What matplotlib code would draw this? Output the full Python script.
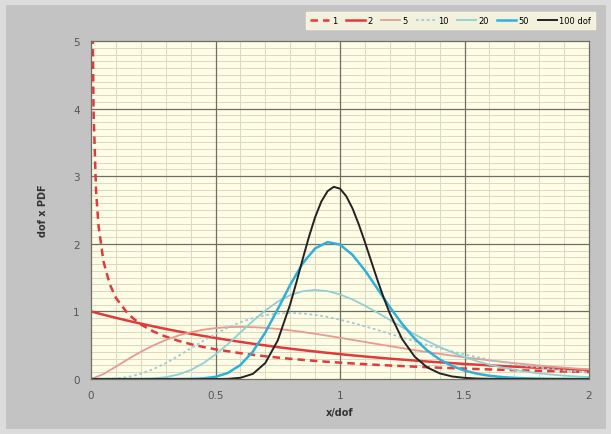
import numpy as np
import matplotlib.pyplot as plt
from matplotlib.ticker import MultipleLocator

# x/dof grid shared by most curves
x_main = [0.00, 0.05, 0.10, 0.15, 0.20, 0.25, 0.30, 0.35, 0.40, 0.45,
          0.50, 0.55, 0.60, 0.65, 0.70, 0.75, 0.80, 0.85, 0.90, 0.95,
          1.00, 1.05, 1.10, 1.15, 1.20, 1.25, 1.30, 1.35, 1.40, 1.45,
          1.50, 1.55, 1.60, 1.65, 1.70, 1.75, 1.80, 1.85, 1.90, 1.95, 2.00]

# 1 dof goes off the top near zero, so it has its own points
x_dof1 = [0.004, 0.01, 0.02, 0.03, 0.05, 0.075, 0.10, 0.15, 0.20, 0.25, 0.30,
          0.35, 0.40, 0.45, 0.50, 0.60, 0.70, 0.80, 0.90, 1.00, 1.10, 1.20,
          1.30, 1.40, 1.50, 1.60, 1.70, 1.80, 1.90, 2.00]
y_dof1 = [6.30, 3.97, 2.793, 2.269, 1.740, 1.403, 1.200, 0.956, 0.807, 0.704, 0.627,
          0.566, 0.516, 0.475, 0.439, 0.382, 0.336, 0.299, 0.268, 0.242, 0.219, 0.200,
          0.183, 0.167, 0.154, 0.142, 0.131, 0.121, 0.112, 0.104]

y_dof2 = [1.000, 0.951, 0.905, 0.861, 0.819, 0.779, 0.741, 0.705, 0.670, 0.638,
          0.607, 0.577, 0.549, 0.522, 0.497, 0.472, 0.449, 0.427, 0.407, 0.387,
          0.368, 0.350, 0.333, 0.317, 0.301, 0.287, 0.273, 0.259, 0.247, 0.235,
          0.223, 0.212, 0.202, 0.192, 0.183, 0.174, 0.165, 0.157, 0.150, 0.142, 0.135]

y_dof5 = [0.000, 0.073, 0.183, 0.297, 0.403, 0.497, 0.577, 0.642, 0.692, 0.729,
          0.753, 0.767, 0.771, 0.767, 0.757, 0.741, 0.720, 0.696, 0.669, 0.640,
          0.610, 0.579, 0.548, 0.517, 0.487, 0.457, 0.427, 0.399, 0.372, 0.346,
          0.321, 0.298, 0.276, 0.255, 0.235, 0.217, 0.199, 0.183, 0.168, 0.155, 0.142]

y_dof10 = [0.000, 0.001, 0.008, 0.031, 0.077, 0.146, 0.235, 0.340, 0.451, 0.563,
           0.668, 0.762, 0.840, 0.901, 0.944, 0.969, 0.977, 0.969, 0.949, 0.918,
           0.877, 0.831, 0.779, 0.725, 0.669, 0.614, 0.559, 0.506, 0.456, 0.409,
           0.365, 0.324, 0.286, 0.252, 0.221, 0.194, 0.169, 0.147, 0.127, 0.110, 0.095]

y_dof20 = [0.000, 0.000, 0.000, 0.000, 0.002, 0.009, 0.027, 0.066, 0.132, 0.232,
           0.363, 0.518, 0.689, 0.858, 1.014, 1.145, 1.241, 1.298, 1.318, 1.300,
           1.251, 1.177, 1.085, 0.982, 0.874, 0.765, 0.661, 0.563, 0.474, 0.394,
           0.324, 0.264, 0.213, 0.171, 0.135, 0.107, 0.083, 0.065, 0.050, 0.038, 0.029]

y_dof50 = [0.000, 0.000, 0.000, 0.000, 0.000, 0.000, 0.000, 0.000, 0.002, 0.009,
           0.032, 0.090, 0.208, 0.406, 0.689, 1.034, 1.394, 1.710, 1.932, 2.026,
           1.988, 1.837, 1.607, 1.338, 1.065, 0.813, 0.597, 0.423, 0.290, 0.193,
           0.125, 0.079, 0.048, 0.029, 0.017, 0.010, 0.006, 0.003, 0.002, 0.001, 0.001]

# 100 dof is narrow, extra points round the peak
x_dof100 = [0.00, 0.50, 0.55, 0.60, 0.65, 0.70, 0.75, 0.80, 0.825, 0.85, 0.875,
            0.90, 0.925, 0.95, 0.975, 1.00, 1.025, 1.05, 1.075, 1.10, 1.125, 1.15,
            1.175, 1.20, 1.25, 1.30, 1.35, 1.40, 1.45, 1.50, 1.55, 1.60, 1.65,
            1.70, 2.00]
y_dof100 = [0.000, 0.000, 0.003, 0.018, 0.076, 0.237, 0.571, 1.107, 1.433, 1.773, 2.101,
            2.394, 2.626, 2.779, 2.843, 2.816, 2.705, 2.525, 2.291, 2.025, 1.745, 1.468,
            1.206, 0.970, 0.588, 0.330, 0.172, 0.084, 0.038, 0.017, 0.007, 0.003, 0.001,
            0.000, 0.000]

grid_dark = '#6e6e62'

fig = plt.figure(figsize=(6.11, 4.35), dpi=100, facecolor='#c3c3c3')
# light frame round the chart area
fig.patches.append(plt.Rectangle((0, 0), 1, 1, transform=fig.transFigure,
                                 fill=False, edgecolor='#dcdcdc', linewidth=8))
ax = fig.add_axes([0.149, 0.1264, 0.815, 0.777])
ax.set_facecolor('#fffde6')

ax.set_xlim(0, 2)
ax.set_ylim(0, 5)
ax.xaxis.set_major_locator(MultipleLocator(0.5))
ax.xaxis.set_minor_locator(MultipleLocator(0.1))
ax.yaxis.set_major_locator(MultipleLocator(1))
ax.yaxis.set_minor_locator(MultipleLocator(0.1))
ax.xaxis.set_major_formatter(plt.FuncFormatter(lambda v, p: f'{v:g}'))

# light minor grid via the axis, dark major lines on top of it
ax.grid(which='minor', color='#dad8bf', lw=0.7)
ax.set_axisbelow(True)
for v in np.arange(0.5, 2.0, 0.5):
    ax.axvline(v, color=grid_dark, lw=0.9, zorder=0.8)
for v in range(1, 5):
    ax.axhline(v, color=grid_dark, lw=0.9, zorder=0.8)

ax.plot(x_dof1, y_dof1, color='#e03a3a', lw=1.8, ls=(0, (3, 2)), label='1')
ax.plot(x_main, y_dof2, color='#e03a3a', lw=1.8, label='2')
ax.plot(x_main, y_dof5, color='#e89a92', lw=1.3, label='5')
ax.plot(x_main, y_dof10, color='#9ccbd8', lw=1.3, ls=(0, (1.5, 1.5)), label='10')
ax.plot(x_main, y_dof20, color='#8fd0d4', lw=1.3, label='20')
ax.plot(x_main, y_dof50, color='#2fb0d8', lw=1.8, label='50')
ax.plot(x_dof100, y_dof100, color='#222222', lw=1.4, label='100 dof')

ax.tick_params(which='both', length=0, labelsize=7.5, labelcolor='#555555', pad=8)
for s in ax.spines.values():
    s.set_color(grid_dark)
    s.set_linewidth(0.9)

ax.set_xlabel('x/dof', fontsize=7, fontweight='bold', color='#333333', labelpad=5)
ax.set_ylabel('dof x PDF', fontsize=7, fontweight='bold', color='#333333', labelpad=18)

leg = fig.legend(loc='upper right', bbox_to_anchor=(0.981, 0.98), ncol=7,
                 fontsize=6, frameon=True, handlelength=2.3, handletextpad=0.3,
                 columnspacing=1.0, borderpad=0.5, fancybox=False)
leg.get_frame().set_facecolor('#fffde6')
leg.get_frame().set_edgecolor('#fffde6')

plt.savefig('out.png', dpi=100, facecolor=fig.get_facecolor())
